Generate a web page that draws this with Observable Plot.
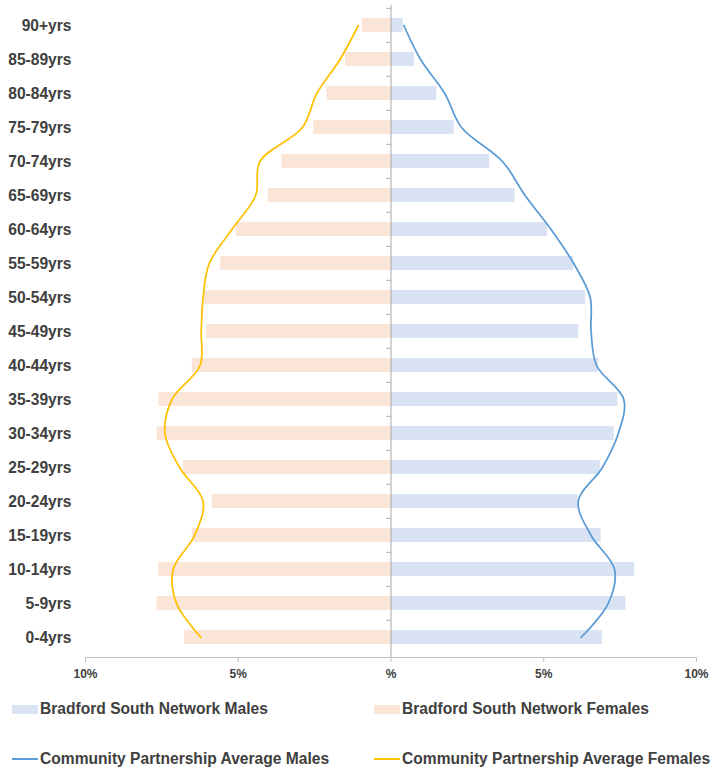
<!DOCTYPE html>
<html><head><meta charset="utf-8">
<script src="https://cdn.jsdelivr.net/npm/d3@7"></script>
<script src="https://cdn.jsdelivr.net/npm/@observablehq/plot@0.6"></script>
<style>
body{margin:0;background:#fff;font-family:"Liberation Sans",Arial,sans-serif;}
#wrap{position:relative;width:714px;height:769px;}
.lg{position:absolute;font-weight:bold;font-size:15.6px;color:#404040;line-height:18px;white-space:nowrap;}
.sw{position:absolute;}
</style></head><body>
<div id="wrap"><div id="chart"></div><div id="legend"></div></div>
<script>
const ageGroups = ["90+yrs","85-89yrs","80-84yrs","75-79yrs","70-74yrs","65-69yrs","60-64yrs","55-59yrs","50-54yrs","45-49yrs","40-44yrs","35-39yrs","30-34yrs","25-29yrs","20-24yrs","15-19yrs","10-14yrs","5-9yrs","0-4yrs"];
const networkMales   = [0.40,0.77,1.50,2.07,3.23,4.06,5.12,5.98,6.37,6.15,6.79,7.43,7.31,6.85,6.13,6.88,7.98,7.69,6.92];
const networkFemales = [0.94,1.49,2.10,2.53,3.57,4.02,5.07,5.57,6.10,6.03,6.50,7.59,7.65,6.79,5.85,6.50,7.60,7.66,6.76];
const avgMales       = [0.42,0.97,1.76,2.31,3.65,4.39,5.24,5.98,6.52,6.55,6.73,7.62,7.44,6.92,6.13,6.55,7.32,7.11,6.22];
const avgFemales     = [1.07,1.67,2.43,2.90,4.29,4.43,5.21,5.95,6.15,6.21,6.25,7.17,7.40,6.92,6.15,6.43,7.13,7.02,6.22];
const xTicks = [-10,-5,0,5,10];
const xTickLabels = ["10%","5%","%","5%","10%"];
const seriesNames = ["Bradford South Network Males","Bradford South Network Females","Community Partnership Average Males","Community Partnership Average Females"];
const colors = ["#dae3f3","#fbe5d6","#5b9bd5","#ffc000"];

const rows = ageGroups.map((age,i)=>({age, nm:networkMales[i], nf:-networkFemales[i], am:avgMales[i], af:-avgFemales[i]}));
const fmtX = (d)=>xTickLabels[xTicks.indexOf(d)];

const W = 714, H = 690, mT = 5, mB = 33;
const bandStep = (H - mT - mB) / ageGroups.length; // band step of the y scale (outer = inner/2)

const chart = Plot.plot({
  width:W, height:H,
  marginLeft:85, marginRight:18, marginTop:mT, marginBottom:mB,
  style:{fontFamily:"'Liberation Sans',Arial,sans-serif", color:"#404040", background:"#fff"},
  x:{domain:[-10,10], label:null},
  y:{domain:ageGroups, type:"band", paddingInner:0.59, paddingOuter:0.295, label:null},
  marks:[
    Plot.barX(rows,{y:"age", x1:0, x2:"nm", fill:colors[0]}),
    Plot.barX(rows,{y:"age", x1:0, x2:"nf", fill:colors[1]}),
    Plot.ruleX([0],{stroke:"#a6a6a6", strokeWidth:1}),
    Plot.ruleY(ageGroups,{y:(d)=>d, x1:-0.13, x2:0, dy:-bandStep/2, stroke:"#a6a6a6", strokeWidth:1}),
    Plot.frame({anchor:"bottom", stroke:"#bfbfbf"}),
    Plot.axisX({ticks:xTicks, tickFormat:fmtX, tickSize:5, tickPadding:7, stroke:"#bfbfbf", fontSize:12, fontWeight:"bold", fill:"#404040"}),
    Plot.axisY({tickSize:0, tickPadding:14, fontSize:15.6, fontWeight:"bold", fill:"#404040"}),
    Plot.line(rows,{y:"age", x:"am", stroke:colors[2], strokeWidth:1.75, curve:"catmull-rom"}),
    Plot.line(rows,{y:"age", x:"af", stroke:colors[3], strokeWidth:1.75, curve:"catmull-rom"})
  ]
});
document.getElementById("chart").appendChild(chart);

const legend = document.getElementById("legend");
const pos = [[12,709,"rect"],[374,709,"rect"],[12,759,"line"],[374,759,"line"]];
seriesNames.forEach((name,i)=>{
  const [x,y,kind] = pos[i];
  const sw = document.createElement("div");
  sw.className="sw";
  if(kind==="rect"){ Object.assign(sw.style,{left:x+"px",top:(y-4)+"px",width:"26px",height:"9px",background:colors[i]}); }
  else { Object.assign(sw.style,{left:x+"px",top:(y-1)+"px",width:"26px",height:"2px",background:colors[i]}); }
  legend.appendChild(sw);
  const t = document.createElement("div");
  t.className="lg"; t.textContent=name;
  Object.assign(t.style,{left:(x+28)+"px",top:(y-9)+"px"});
  legend.appendChild(t);
});
</script>
</body></html>
